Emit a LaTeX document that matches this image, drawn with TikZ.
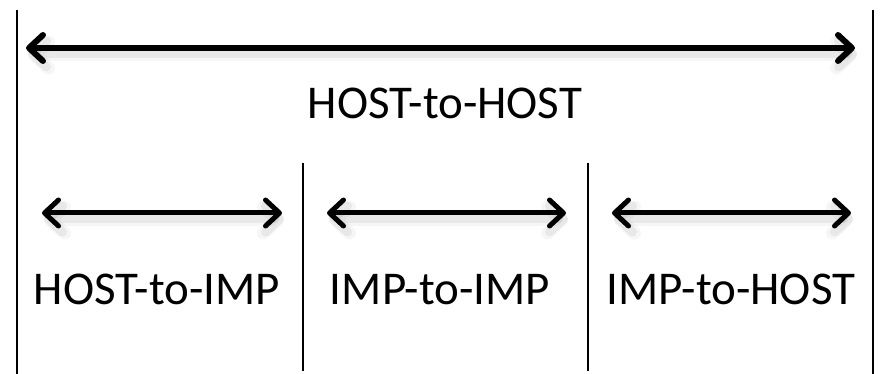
\documentclass[tikz,border=0pt]{standalone}
\usepackage{fontspec}
\setmainfont{Carlito}
\usetikzlibrary{arrows.meta}
\tikzset{
  divider/.style={line width=2pt, black},
  dblarrow/.style={line width=#1, line cap=round,
    >={Straight Barb[length=14pt,width=26pt,line cap=round,line join=round]}, <->},
  shadowarrow/.style={dblarrow=#1, draw=black, opacity=0.06},
  lbl/.style={font=\fontsize{47pt}{56pt}\selectfont, anchor=base, inner sep=0pt},
}
\begin{document}
\begin{tikzpicture}[x=1pt,y=-1pt]
\useasboundingbox (0,0) rectangle (881,374);
% vertical lines
\coordinate (L1) at (17,10);  \coordinate (L2) at (17,374);
\coordinate (R1) at (873,10); \coordinate (R2) at (873,374);
\coordinate (D1a) at (303,163); \coordinate (D1b) at (303,371);
\coordinate (D2a) at (588,163); \coordinate (D2b) at (588,371);
\draw[divider] (L1) -- (L2);
\draw[divider] (R1) -- (R2);
\draw[divider] (D1a) -- (D1b);
\draw[divider] (D2a) -- (D2b);
% arrow ends
\coordinate (Ha) at (26,48);  \coordinate (Hb) at (855,48);
\coordinate (Aa) at (42,213); \coordinate (Ab) at (282,213);
\coordinate (Ba) at (327,213); \coordinate (Bb) at (566,213);
\coordinate (Ca) at (612,213); \coordinate (Cb) at (851,213);
% soft shadows
\foreach \s/\e in {Ha/Hb,Aa/Ab,Ba/Bb,Ca/Cb}{
  \draw[shadowarrow=9pt] ([shift={(2,6)}]\s) -- ([shift={(2,6)}]\e);
  \draw[shadowarrow=13pt, opacity=0.035] ([shift={(2,7)}]\s) -- ([shift={(2,7)}]\e);
}
\draw[dblarrow=6pt] (Ha) -- (Hb);
\draw[dblarrow=5pt] (Aa) -- (Ab);
\draw[dblarrow=5pt] (Ba) -- (Bb);
\draw[dblarrow=5pt] (Ca) -- (Cb);
% labels
\node[lbl] (hh) at (445,119) {HOST-to-HOST};
\node[lbl] (hi) at (157,305) {HOST-to-IMP};
\node[lbl] (ii) at (440,305) {IMP-to-IMP};
\node[lbl] (ih) at (731,305) {IMP-to-HOST};
\end{tikzpicture}
\end{document}
